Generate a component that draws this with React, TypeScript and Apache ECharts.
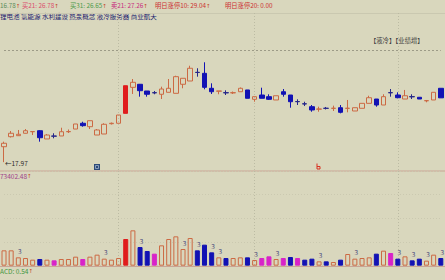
import React, { useEffect, useRef } from 'react';
import * as echarts from 'echarts';

// ---- data ----
const categories = Array.from({ length: 62 }, (_, i) => `D${i + 1}`);

const open = [
  20.09, 21.46, 21.6, 21.93, 22.14, 22.28, 21.15, 21.56, 21.56, 22.14,
  22.51, 23.3, 22.83, 21.69, 21.83, 23.24, 23.3, 24.66, 28.22, 28.64,
  27.72, 27.49, 27.27, 27.54, 27.4, 28.64, 29.09, 30.28, 30.14, 28.09,
  27.69, 27.49, 27.46, 27.62, 27.86, 26.58, 27.17, 26.94, 26.49, 27.62,
  27.17, 26.28, 25.97, 25.57, 25.23, 25.36, 25.34, 25.43, 25.34, 24.98,
  25.35, 26.03, 26.62, 25.8, 27.5, 27.17, 26.62, 26.95, 26.86, 26.38,
  26.49, 28.09,
];
const close = [
  20.56, 21.93, 21.79, 22.28, 22.17, 21.32, 21.69, 21.53, 22.14, 22.17,
  23.2, 22.97, 23.65, 22.38, 23.16, 23.3, 24.43, 28.44, 28.91, 27.76,
  27.27, 27.46, 27.99, 28.09, 29.68, 29.46, 30.83, 30.25, 28.22, 27.62,
  27.72, 27.46, 27.49, 28.09, 26.72, 26.94, 26.72, 26.58, 27.07, 27.27,
  26.25, 26.25, 25.94, 25.12, 25.25, 25.34, 25.36, 24.8, 25.36, 25.43,
  26.03, 26.8, 25.8, 26.94, 27.47, 26.8, 27.07, 26.92, 26.62, 26.4,
  27.54, 26.78,
];
const low = [
  17.97, 21.35, 21.56, 21.9, 21.69, 20.78, 21.15, 21.24, 21.56, 21.97,
  22.51, 22.83, 22.51, 21.69, 21.83, 23.13, 23.3, 24.66, 27.31, 26.94,
  26.94, 27.27, 26.62, 27.54, 27.4, 28.09, 29.09, 29.68, 27.95, 27.31,
  27.27, 27.17, 27.31, 27.62, 26.72, 26.25, 26.72, 26.49, 26.49, 26.94,
  25.43, 25.8, 25.66, 24.88, 24.88, 25.19, 24.98, 24.66, 24.8, 24.98,
  25.35, 26.03, 25.57, 25.8, 26.94, 26.72, 26.62, 26.62, 26.62, 26.17,
  26.49, 26.78,
];
const high = [
  20.78, 22.24, 22.38, 22.51, 22.17, 22.35, 21.83, 21.93, 22.69, 22.45,
  23.2, 23.51, 23.65, 22.51, 23.3, 23.4, 24.43, 28.44, 29.36, 28.68,
  27.72, 27.72, 28.31, 29.36, 29.81, 29.46, 31.18, 30.83, 31.65, 28.77,
  27.72, 27.81, 27.65, 28.2, 27.86, 26.94, 28.17, 27.27, 27.07, 27.99,
  27.17, 26.58, 26.25, 25.8, 25.57, 25.53, 25.71, 25.8, 26.49, 25.43,
  26.03, 27.07, 26.62, 27.27, 27.99, 27.54, 27.86, 27.27, 26.86, 26.49,
  27.54, 28.09,
];
// u: hollow up, r: red filled up, d: blue down, x: down doji, y: up doji
const candleKind = [
  'u', 'u', 'u', 'u', 'y', 'd', 'u', 'x', 'u', 'y',
  'u', 'd', 'u', 'u', 'u', 'y', 'u', 'r', 'u', 'd',
  'd', 'x', 'u', 'u', 'u', 'u', 'u', 'x', 'd', 'd',
  'y', 'x', 'y', 'u', 'd', 'u', 'd', 'd', 'u', 'd',
  'd', 'x', 'x', 'd', 'y', 'x', 'y', 'd', 'y', 'u',
  'u', 'u', 'd', 'u', 'x', 'd', 'u', 'x', 'd', 'y',
  'u', 'd',
];

const volume = [
  46000, 46000, 25000, 23000, 18000, 20000, 18000, 16000, 20000, 20000,
  27000, 20000, 27000, 33000, 21000, 18000, 23000, 80000, 106000, 56000,
  44000, 36000, 61000, 80000, 88000, 50000, 83000, 46000, 63000, 40000,
  25000, 23000, 23000, 25000, 25000, 17000, 23000, 28000, 20000, 23000,
  26000, 23000, 18000, 21000, 13000, 13000, 11000, 18000, 35000, 21000,
  23000, 25000, 36000, 45000, 38000, 21000, 28000, 16000, 21000, 15000,
  33000, 23000,
];
// h: hollow, r: red, b: blue, m: magenta
const volumeKind = [
  'h', 'h', 'h', 'h', 'h', 'b', 'h', 'm', 'h', 'h',
  'h', 'm', 'h', 'h', 'h', 'h', 'h', 'r', 'h', 'b',
  'b', 'm', 'h', 'h', 'h', 'h', 'h', 'b', 'b', 'b',
  'h', 'b', 'h', 'h', 'b', 'h', 'm', 'm', 'h', 'm',
  'b', 'm', 'b', 'b', 'h', 'b', 'h', 'b', 'h', 'h',
  'h', 'h', 'b', 'h', 'm', 'b', 'h', 'b', 'b', 'h',
  'h', 'b',
];
const volumeMarks = [2, 14, 19, 25, 27, 29, 30, 35, 38, 44, 49, 55, 57, 59, 61];
const volumeMarkText = '3';
const periodStarts = [16, 35, 55];
const refLevel = 33.33;
const lowLabel = '←17.97';

const headerLabels = ['', '买21: ', '买31: ', '卖21: ', '明日涨停10: ', '明日涨停20: '];
const headerValues = ['16.78', '26.78', '26.65', '27.26', '29.04', '0.00'];
const headerArrow = [true, true, true, true, true, false];
const conceptText = '锂电池 氢能源 水利建设 热泵概念 液冷服务器 商业航天';
const tagText = '【液冷】【业绩增】';
const volumeReadout = '73402.48';
const acdLabel = 'ACD: ';
const acdValue = '0.54';

// ---- styles ----
const BG = '#d9d7bd';
const SALMON = '#cc6a44';
const RED = '#e01c1c';
const BLUE = '#1212b4';
const DOJI_DOWN = '#26268a';
const MAGENTA = '#d823c8';
const FONT = '"Noto Sans CJK SC", "Noto Sans", sans-serif';
const ARROW_FONT = '"DejaVu Sans", sans-serif';
const headerX = [0, 22, 70, 111, 155, 225];
const headerColors = ['#5a8c5a', '#dc4a6c', '#4a9a4a', '#c82a7e', '#cc3030', '#cc3030'];

function candleStyle(kind: string) {
  let fill = 'rgba(0,0,0,0)';
  let stroke = SALMON;
  if (kind === 'r') { fill = RED; stroke = RED; }
  else if (kind === 'd') { fill = BLUE; stroke = BLUE; }
  else if (kind === 'x') { fill = DOJI_DOWN; stroke = DOJI_DOWN; }
  return { color: fill, color0: fill, borderColor: stroke, borderColor0: stroke, borderWidth: 1 };
}

function volumeStyle(kind: string) {
  if (kind === 'r') return { color: RED, borderColor: RED, borderWidth: 1 };
  if (kind === 'b') return { color: BLUE, borderColor: BLUE, borderWidth: 1 };
  if (kind === 'm') return { color: MAGENTA, borderColor: MAGENTA, borderWidth: 1 };
  return { color: 'rgba(0,0,0,0)', borderColor: SALMON, borderWidth: 1 };
}

export default function App() {
  const ref = useRef<HTMLDivElement>(null);
  useEffect(() => {
    const chart = echarts.init(ref.current!, null, { renderer: 'svg' });

    const candleData = categories.map((_, i) => ({
      value: [open[i], close[i], low[i], high[i]],
      itemStyle: candleStyle(candleKind[i]),
    }));
    const volumeData = categories.map((_, i) => ({
      value: volume[i],
      itemStyle: volumeStyle(volumeKind[i]),
      label: volumeMarks.includes(i)
        ? {
            show: true,
            position: 'top',
            distance: 3,
            offset: [1.5, 0],
            formatter: volumeMarkText,
            fontSize: 6.5,
            fontFamily: FONT,
            color: '#4a4a7c',
          }
        : { show: false },
    }));

    const splitX = {
      show: true,
      interval: (i: number) => periodStarts.includes(i),
      lineStyle: { color: '#bcbba3', type: [1, 2], width: 1 },
    };

    const headerGraphics = headerLabels.map((lab, i) => ({
      type: 'text',
      x: headerX[i],
      y: 5.5,
      silent: true,
      style: {
        text: `{a|${lab}${headerValues[i]}}` + (headerArrow[i] ? '{b|↑}' : ''),
        verticalAlign: 'middle',
        font: `6.3px ${FONT}`,
        rich: {
          a: { fill: headerColors[i], font: `6.3px ${FONT}` },
          b: { fill: '#c04020', font: `5.5px ${ARROW_FONT}` },
        },
      },
    }));

    chart.setOption({
      animation: false,
      backgroundColor: BG,
      grid: [
        { left: 4, right: 4.2, top: 13, height: 157 },
        { left: 4, right: 4.2, top: 171, height: 94.67 },
      ],
      xAxis: [
        {
          type: 'category', gridIndex: 0, data: categories, boundaryGap: false,
          axisLine: { show: false }, axisTick: { show: false }, axisLabel: { show: false },
          splitLine: splitX,
        },
        {
          type: 'category', gridIndex: 1, data: categories, boundaryGap: false,
          axisLine: { show: false }, axisTick: { show: false }, axisLabel: { show: false },
          splitLine: splitX,
        },
      ],
      yAxis: [
        {
          type: 'value', gridIndex: 0, min: 16.9, max: 38.4, show: false,
          splitLine: { show: false },
        },
        {
          type: 'value', gridIndex: 1, min: 0, max: 284000, interval: 71000,
          axisLine: { show: false }, axisTick: { show: false }, axisLabel: { show: false },
          splitLine: { show: true, lineStyle: { color: '#cbc9b0', type: [1, 2] } },
        },
      ],
      series: [
        {
          type: 'candlestick',
          xAxisIndex: 0,
          yAxisIndex: 0,
          barWidth: 5,
          clip: false,
          data: candleData,
          markLine: {
            silent: true,
            symbol: 'none',
            label: { show: false },
            lineStyle: { color: '#9d9b87', type: [2, 2], width: 1 },
            data: [{ yAxis: refLevel }],
          },
        },
        {
          type: 'bar',
          xAxisIndex: 1,
          yAxisIndex: 1,
          barWidth: 5,
          clip: false,
          data: volumeData,
        },
      ],
      graphic: [
        ...headerGraphics,
        {
          type: 'text', x: 0, y: 15.5, silent: true,
          style: { text: conceptText, fill: '#22226e', font: `6.5px ${FONT}`, verticalAlign: 'middle' },
        },
        {
          type: 'text', x: 370, y: 40, silent: true,
          style: { text: tagText, fill: '#3a3a3a', font: `6.3px ${FONT}`, verticalAlign: 'middle' },
        },
        {
          type: 'text', x: 5, y: 162.5, silent: true,
          style: { text: lowLabel, fill: '#2a2a2a', font: `6.5px ${FONT}`, verticalAlign: 'middle' },
        },
        {
          type: 'rect', silent: true,
          shape: { x: 94, y: 164, width: 6, height: 6 },
          style: { fill: '#2c4a78' },
        },
        {
          type: 'rect', silent: true,
          shape: { x: 95.5, y: 165.5, width: 3, height: 3 },
          style: { fill: 'none', stroke: '#9fb2cc', lineWidth: 0.8 },
        },
        {
          type: 'polyline', silent: true,
          shape: { points: [[317, 163.5], [317, 169], [320, 169], [320, 166.5], [317, 166.5]] },
          style: { fill: 'none', stroke: '#d83020', lineWidth: 1 },
        },
        {
          type: 'line', silent: true,
          shape: { x1: 0, y1: 13.5, x2: 445, y2: 13.5 },
          style: { stroke: '#cac8b0', lineWidth: 1 },
        },
        {
          type: 'line', silent: true,
          shape: { x1: 0, y1: 171, x2: 445, y2: 171 },
          style: { stroke: '#c9a494', lineWidth: 1 },
        },
        {
          type: 'line', silent: true,
          shape: { x1: 0, y1: 266.5, x2: 445, y2: 266.5 },
          style: { stroke: '#c9a494', lineWidth: 1 },
        },
        {
          type: 'text', x: 0, y: 175.5, silent: true,
          style: {
            text: `{a|${volumeReadout}}{b|↑}`,
            verticalAlign: 'middle',
            font: `6.5px ${FONT}`,
            rich: {
              a: { fill: '#a0408a', font: `6.5px ${FONT}` },
              b: { fill: '#c04020', font: `5.5px ${ARROW_FONT}` },
            },
          },
        },
        {
          type: 'text', x: 0, y: 271, silent: true,
          style: {
            text: `{a|${acdLabel}${acdValue}}{b|↑}`,
            verticalAlign: 'middle',
            font: `6.5px ${FONT}`,
            rich: {
              a: { fill: '#3c963c', font: `6.5px ${FONT}` },
              b: { fill: '#c04020', font: `5.5px ${ARROW_FONT}` },
            },
          },
        },
      ],
    });
    return () => chart.dispose();
  }, []);
  return <div ref={ref} style={{ position: 'fixed', left: 0, top: 0, width: 445, height: 280 }} />;
}
